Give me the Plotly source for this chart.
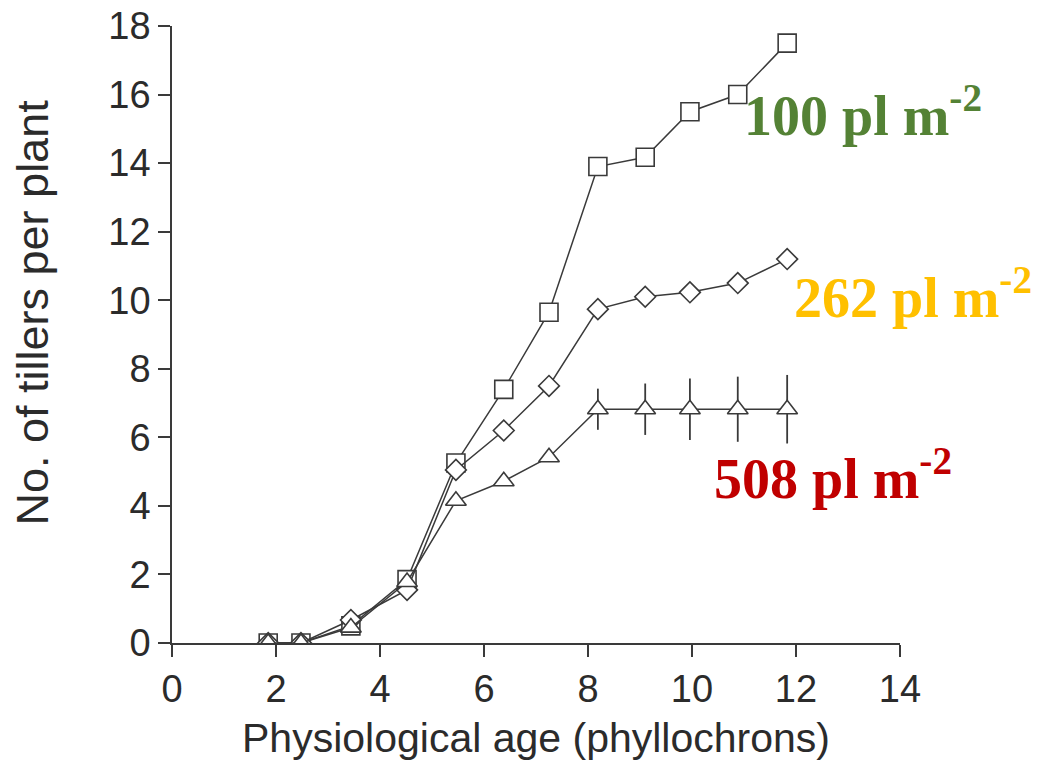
import plotly.graph_objects as go

age = [1.85, 2.48, 3.44, 4.52, 5.46, 6.38, 7.25, 8.19, 9.1, 9.96, 10.88, 11.83]
d100 = [0, 0, 0.5, 1.85, 5.25, 7.4, 9.65, 13.9, 14.17, 15.5, 16.0, 17.5]
d262 = [0, 0, 0.67, 1.55, 5.05, 6.2, 7.5, 9.74, 10.1, 10.23, 10.5, 11.2]
d508 = [0, 0, 0.45, 1.78, 4.15, 4.72, 5.42, 6.82, 6.82, 6.82, 6.82, 6.82]
err508 = [0, 0, 0, 0, 0, 0, 0, 0.6, 0.75, 0.9, 0.95, 1.0]

labels = ["100 pl m<sup>-2</sup>", "262 pl m<sup>-2</sup>", "508 pl m<sup>-2</sup>"]
label_colors = ["#548235", "#FFC000", "#C00000"]
label_pos = [(10.96, 15.5), (11.92, 10.2), (10.38, 4.93)]

line_c = "#3a3a3a"
fig = go.Figure()
fig.add_trace(go.Scatter(x=age, y=d100, mode="lines+markers",
                         line=dict(color=line_c, width=1.5),
                         marker=dict(symbol="square", size=18, color="white",
                                     line=dict(color=line_c, width=1.6))))
fig.add_trace(go.Scatter(x=age, y=d262, mode="lines+markers",
                         line=dict(color=line_c, width=1.5),
                         marker=dict(symbol="diamond", size=16, color="white",
                                     line=dict(color=line_c, width=1.6))))
fig.add_trace(go.Scatter(x=age, y=d508, mode="lines+markers",
                         line=dict(color=line_c, width=1.5),
                         error_y=dict(type="data", array=err508, visible=True,
                                      color=line_c, thickness=1.8, width=0),
                         marker=dict(symbol="triangle-up", size=18, color="white",
                                     line=dict(color=line_c, width=1.6))))

for txt, col, (lx, ly) in zip(labels, label_colors, label_pos):
    fig.add_annotation(x=lx, y=ly, text=txt, showarrow=False, xanchor="left",
                       yanchor="middle",
                       font=dict(family="Liberation Serif", size=56, color=col, weight="bold"))

tick_font = dict(family="Liberation Sans", size=38, color="#2b2b2b")
title_font = dict(family="Liberation Sans", size=41, color="#2b2b2b")

# y-axis title placed as a rotated annotation
fig.add_annotation(xref="paper", yref="paper", x=-0.192, y=0.536,
                   text="No. of tillers per plant", textangle=-90, showarrow=False,
                   xanchor="center", yanchor="middle",
                   font=dict(family="Liberation Sans", size=45, color="#2b2b2b"))

fig.update_layout(
    width=1048, height=764,
    margin=dict(l=172, r=148, t=26, b=121),
    paper_bgcolor="white", plot_bgcolor="white",
    showlegend=False,
    xaxis=dict(range=[0, 14], tickvals=[0, 2, 4, 6, 8, 10, 12, 14], automargin=False,
               showgrid=False, zeroline=False, showline=True, linecolor=line_c,
               linewidth=1.5, ticks="outside", ticklen=12, tickwidth=1.5,
               tickcolor=line_c, tickfont=tick_font,
               title=dict(text="Physiological age (phyllochrons)", font=title_font, standoff=14)),
    yaxis=dict(range=[0, 18], tickvals=list(range(0, 19, 2)), automargin=False,
               showgrid=False, zeroline=False, showline=True, linecolor=line_c,
               linewidth=1.5, ticks="outside", ticklen=12, tickwidth=1.5,
               tickcolor=line_c, tickfont=tick_font),
)
fig.write_html("out.html")
